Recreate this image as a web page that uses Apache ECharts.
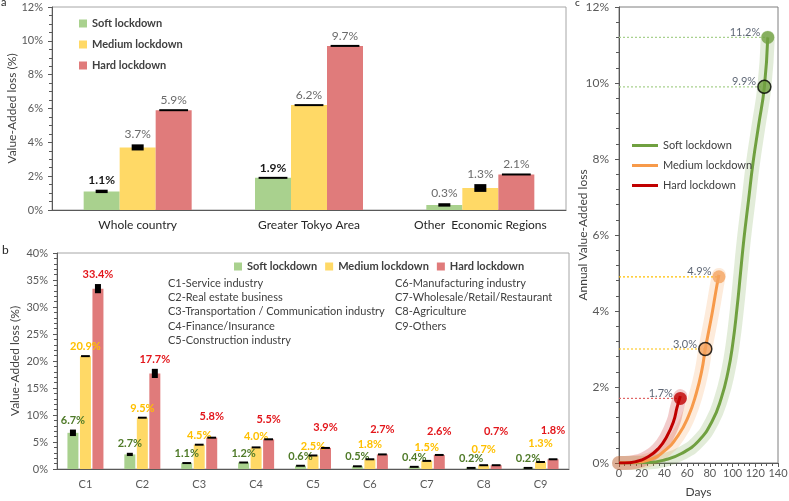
<!DOCTYPE html>
<html><head><meta charset="utf-8">
<script src="https://cdn.jsdelivr.net/npm/echarts/dist/echarts.min.js"></script>
<style>html,body{margin:0;padding:0;background:#fff}#c{width:789px;height:501px}</style>
</head><body><div id="c"></div>
<script>
// ---------- DATA ----------
const regionCats = ['Whole country', 'Greater Tokyo Area', 'Other  Economic Regions'];
const regionSoft = [1.1, 1.9, 0.3];
const regionMedium = [3.7, 6.2, 1.3];
const regionHard = [5.9, 9.7, 2.1];
const regionSoftErr = [0.1, 0.03, 0.1];
const regionMediumErr = [0.18, 0.03, 0.23];
const regionHardErr = [0.02, 0.02, 0.03];

const sectorCats = ['C1', 'C2', 'C3', 'C4', 'C5', 'C6', 'C7', 'C8', 'C9'];
const sectorSoft = [6.7, 2.7, 1.1, 1.2, 0.6, 0.5, 0.4, 0.2, 0.2];
const sectorMedium = [20.9, 9.5, 4.5, 4.0, 2.5, 1.8, 1.5, 0.7, 1.3];
const sectorHard = [33.4, 17.7, 5.8, 5.5, 3.9, 2.7, 2.6, 0.7, 1.8];
const sectorSoftErr = [0.6, 0.3, 0.05, 0.2, 0.05, 0.05, 0.05, 0.03, 0.03];
const sectorMediumErr = [0.15, 0.1, 0.05, 0.05, 0.05, 0.03, 0.03, 0.03, 0.03];
const sectorHardErr = [0.85, 0.85, 0.08, 0.08, 0.08, 0.05, 0.05, 0.03, 0.03];
const sectorNamesLeft = ['C1-Service industry', 'C2-Real estate business', 'C3-Transportation / Communication industry', 'C4-Finance/Insurance', 'C5-Construction industry'];
const sectorNamesRight = ['C6-Manufacturing industry', 'C7-Wholesale/Retail/Restaurant', 'C8-Agriculture', 'C9-Others'];

const softDays = [0, 10, 26, 40, 55, 70, 82, 90, 96, 100, 104, 107, 110, 114, 118, 123, 128, 131];
const softLoss = [0, 0, 0.01, 0.08, 0.25, 0.58, 1.1, 1.7, 2.4, 3.1, 4.1, 5.0, 5.9, 6.9, 7.9, 8.9, 9.9, 11.2];
const mediumDays = [0, 10, 26, 40, 52, 61, 68, 73, 76, 82, 86, 88];
const mediumLoss = [0, 0.01, 0.08, 0.32, 0.72, 1.22, 1.83, 2.45, 3.0, 3.94, 4.64, 4.95];
const hardDays = [0, 5, 14, 26, 35, 42, 48, 51, 54];
const hardLoss = [0, 0.0, 0.03, 0.17, 0.39, 0.69, 1.09, 1.45, 1.76];
const markerDays = { soft: [128, 131], medium: [76, 88], hard: [54] };
const markerLoss = { soft: [9.9, 11.2], medium: [3.0, 4.9], hard: [1.7] };
const markerHollow = { soft: [true, false], medium: [true, false], hard: [false] };

const scenarios = ['Soft lockdown', 'Medium lockdown', 'Hard lockdown'];

// ---------- STYLE / LAYOUT ----------
const FONT = 'Lato';
const barColors = ['#A9D18E', '#FFD966', '#E07B7B'];
const bLabelColors = ['#4F7A28', '#FFC000', '#E3161B'];
const lineColors = ['#70A040', '#F79A4A', '#C00000'];
const markerColors = ['#70A040', '#F4A460', '#C00000'];
const dotColors = ['#A9D18E', '#FFC000', '#E06666'];
const labelRaiseMedium = [0, 0, 0, 1, 0, 5, 4, 6, 9];
const labelRaiseHard = [0, 0, 12, 10, 11, 15, 14, 24, 19];

const gA = { left: 52, top: 7, width: 514, height: 203 };
const gB = { left: 57, top: 253, width: 512, height: 216 };
const gC = { left: 619, top: 7, width: 159, height: 456 };
const pxA = gA.height / 12, pxB = gB.height / 40;

const barWA = 36, gapA = 0, barWB = 11, gapB = 1.5;

function errSeries(xi, yi, vals, errs, idx, barW, gap, boxW) {
  return {
    type: 'custom', xAxisIndex: xi, yAxisIndex: yi, z: 5, silent: true,
    data: vals.map((v, i) => [i, v, errs[i]]),
    renderItem: function (params, api) {
      const hi = api.coord([api.value(0), api.value(1) + api.value(2)]);
      const lo = api.coord([api.value(0), api.value(1) - api.value(2)]);
      const x = hi[0] + (idx - 1) * (barW + gap);
      let top = hi[1], h = lo[1] - hi[1], w = boxW;
      if (h < 2.5) { w = barW * 0.8; top = (hi[1] + lo[1]) / 2 - 1; h = 2; }
      return { type: 'rect', shape: { x: x - w / 2, y: top, width: w, height: h }, style: { fill: '#000' } };
    }
  };
}

function axisCommon(extra) {
  return Object.assign({
    axisLine: { show: true, lineStyle: { color: '#595959', width: 1 } },
    axisTick: { show: true, length: 4, lineStyle: { color: '#595959' } },
    splitLine: { show: false },
    nameMoveOverlap: false,
    axisLabel: { color: '#595959', fontFamily: FONT, fontSize: 11 }
  }, extra);
}

const series = [];
// Panel a bars
[regionSoft, regionMedium, regionHard].forEach((vals, k) => {
  const errs = [regionSoftErr, regionMediumErr, regionHardErr][k];
  series.push({
    type: 'bar', name: scenarios[k], xAxisIndex: 0, yAxisIndex: 0,
    barWidth: barWA, barGap: '0%',
    itemStyle: { color: barColors[k] },
    data: vals.map((v, i) => {
      const dark = (k === 0 && i < 2);
      return {
        value: v,
        label: {
          show: true, position: 'top', distance: 4 + (errs[i] * pxA > 1.2 ? errs[i] * pxA : 0),
          formatter: v.toFixed(1) + '%', fontFamily: FONT, fontSize: 12,
          color: dark ? '#1a1a1a' : '#6b6b6b', fontWeight: dark ? 'bold' : 'normal'
        }
      };
    })
  });
  series.push(errSeries(0, 0, vals, errs, k, barWA, gapA, 12));
});
// Panel b bars
[sectorSoft, sectorMedium, sectorHard].forEach((vals, k) => {
  const errs = [sectorSoftErr, sectorMediumErr, sectorHardErr][k];
  const raise = [null, labelRaiseMedium, labelRaiseHard][k];
  series.push({
    type: 'bar', name: scenarios[k], xAxisIndex: 1, yAxisIndex: 1,
    barWidth: barWB, barGap: (gapB / barWB * 100) + '%',
    itemStyle: { color: barColors[k] },
    data: vals.map((v, i) => ({
      value: v,
      label: {
        show: true, position: 'top',
        distance: 4 + (errs[i] * pxB > 1.2 ? errs[i] * pxB : 0) + (raise ? raise[i] : 0),
        formatter: v.toFixed(1) + '%', fontFamily: FONT, fontSize: 11, fontWeight: 'bold',
        color: bLabelColors[k]
      }
    }))
  });
  series.push(errSeries(1, 1, vals, errs, k, barWB, gapB, 6));
});
// Panel c
const curves = [[softDays, softLoss], [mediumDays, mediumLoss], [hardDays, hardLoss]];
const mkeys = ['soft', 'medium', 'hard'];
curves.forEach((c, k) => {
  const data = c[0].map((d, i) => [d, c[1][i]]);
  series.push({
    type: 'line', xAxisIndex: 2, yAxisIndex: 2, data: data, smooth: true,
    showSymbol: false, silent: true, z: 1,
    lineStyle: { color: lineColors[k], width: 14, opacity: 0.2, cap: 'round', join: 'round' }
  });
});
curves.forEach((c, k) => {
  const key = mkeys[k];
  markerDays[key].forEach((d, j) => {
    series.push({
      type: 'line', xAxisIndex: 2, yAxisIndex: 2, silent: true, showSymbol: false, z: 2,
      data: [[0, markerLoss[key][j]], [d, markerLoss[key][j]]],
      lineStyle: { color: dotColors[k], width: 1.2, type: [2, 2] }
    });
  });
});
curves.forEach((c, k) => {
  const data = c[0].map((d, i) => [d, c[1][i]]);
  series.push({
    type: 'line', name: scenarios[k], xAxisIndex: 2, yAxisIndex: 2, data: data, smooth: true,
    showSymbol: false, z: 3,
    itemStyle: { color: lineColors[k] },
    lineStyle: { color: lineColors[k], width: 3, join: 'round' }
  });
});
curves.forEach((c, k) => {
  const key = mkeys[k];
  series.push({
    type: 'scatter', xAxisIndex: 2, yAxisIndex: 2, z: 6, symbolSize: 13, clip: false,
    data: markerDays[key].map((d, j) => ({
      value: [d, markerLoss[key][j]],
      itemStyle: { color: markerColors[k],
        borderColor: markerHollow[key][j] ? '#000' : 'transparent', borderWidth: markerHollow[key][j] ? 1.5 : 0 }
    })),
    label: {
      show: true, position: 'left', distance: 1, offset: [0, -5],
      formatter: p => p.value[1].toFixed(1) + '%',
      fontFamily: FONT, fontSize: 11, color: '#333F50'
    }
  });
});

const textLines = [];
sectorNamesLeft.forEach((t, i) => textLines.push({ type: 'text', left: 168, top: 278 + i * 14.2, style: { text: t, fill: '#404040', font: '11px ' + FONT } }));
sectorNamesRight.forEach((t, i) => textLines.push({ type: 'text', left: 395, top: 278 + i * 14.2, style: { text: t, fill: '#404040', font: '11px ' + FONT } }));

const gridBase = { show: true, borderWidth: 1, containLabel: false, outerBoundsMode: 'none' };
const option = {
  animation: false,
  backgroundColor: '#fff',
  grid: [
    Object.assign({}, gridBase, { borderColor: '#A6A6A6' }, gA),
    Object.assign({}, gridBase, { borderColor: '#A6A6A6' }, gB),
    Object.assign({}, gridBase, { borderColor: '#7f7f7f' }, gC)
  ],
  xAxis: [
    axisCommon({ type: 'category', gridIndex: 0, data: regionCats, axisTick: { show: false },
      axisLabel: { color: '#262626', fontFamily: FONT, fontSize: 12, margin: 9, interval: 0, hideOverlap: false } }),
    axisCommon({ type: 'category', gridIndex: 1, data: sectorCats, axisTick: { show: false },
      axisLabel: { color: '#595959', fontFamily: FONT, fontSize: 11, margin: 10, interval: 0 } }),
    axisCommon({ type: 'value', gridIndex: 2, min: 0, max: 140, interval: 20,
      minorTick: { show: true, splitNumber: 4, length: 3, lineStyle: { color: '#595959' } },
      axisLabel: { color: '#595959', fontFamily: FONT, fontSize: 11, margin: 5, hideOverlap: false },
      name: 'Days', nameLocation: 'middle', nameGap: 23,
      nameTextStyle: { color: '#404040', fontFamily: FONT, fontSize: 12 } })
  ],
  yAxis: [
    axisCommon({ type: 'value', gridIndex: 0, min: 0, max: 12, interval: 2,
      minorTick: { show: true, splitNumber: 4, length: 3, lineStyle: { color: '#595959' } },
      axisLabel: { color: '#595959', fontFamily: FONT, fontSize: 11, margin: 9, formatter: '{value}%' },
      name: 'Value-Added loss (%)', nameLocation: 'middle', nameGap: 34,
      nameTextStyle: { color: '#404040', fontFamily: FONT, fontSize: 12 } }),
    axisCommon({ type: 'value', gridIndex: 1, min: 0, max: 40, interval: 5,
      minorTick: { show: true, splitNumber: 5, length: 3, lineStyle: { color: '#595959' } },
      axisLabel: { color: '#595959', fontFamily: FONT, fontSize: 11, margin: 9, formatter: '{value}%' },
      name: 'Value-Added loss (%)', nameLocation: 'middle', nameGap: 36,
      nameTextStyle: { color: '#404040', fontFamily: FONT, fontSize: 12 } }),
    axisCommon({ type: 'value', gridIndex: 2, min: 0, max: 12, interval: 2,
      minorTick: { show: true, splitNumber: 5, length: 3, lineStyle: { color: '#595959' } },
      axisLabel: { color: '#595959', fontFamily: FONT, fontSize: 12, margin: 10, formatter: '{value}%' },
      name: 'Annual Value-Added loss', nameLocation: 'middle', nameGap: 30,
      nameTextStyle: { color: '#404040', fontFamily: FONT, fontSize: 12 } })
  ],
  legend: [
    { orient: 'vertical', left: 79, top: 17, padding: 0, itemGap: 8, itemWidth: 8, itemHeight: 8, selectedMode: false,
      data: scenarios.map((n, k) => ({ name: n, icon: 'rect', itemStyle: { color: barColors[k] } })),
      textStyle: { color: '#404040', fontFamily: FONT, fontSize: 11, fontWeight: 'bold', lineHeight: 13 } },
    { orient: 'horizontal', left: 234, top: 261, padding: 0, itemGap: 8, itemWidth: 8, itemHeight: 8, selectedMode: false,
      data: scenarios.map((n, k) => ({ name: n, icon: 'rect', itemStyle: { color: barColors[k] } })),
      textStyle: { color: '#404040', fontFamily: FONT, fontSize: 11, fontWeight: 'bold' } },
    { orient: 'vertical', left: 632, top: 139, padding: 0, itemGap: 7, itemWidth: 26, itemHeight: 3, selectedMode: false,
      data: scenarios.map((n, k) => ({ name: n, icon: 'rect', itemStyle: { color: lineColors[k] } })),
      textStyle: { color: '#404040', fontFamily: FONT, fontSize: 11, lineHeight: 13 } }
  ],
  graphic: [
    { type: 'text', left: 1, top: -3, style: { text: 'a', fill: '#262626', font: '11px ' + FONT } },
    { type: 'text', left: 2, top: 244, style: { text: 'b', fill: '#262626', font: '12px ' + FONT } },
    { type: 'text', left: 575, top: -2, style: { text: 'c', fill: '#262626', font: '10px ' + FONT } }
  ].concat(textLines),
  series: series
};
const chart = echarts.init(document.getElementById('c'), null, { renderer: 'canvas' });
chart.setOption(option);
</script></body></html>
